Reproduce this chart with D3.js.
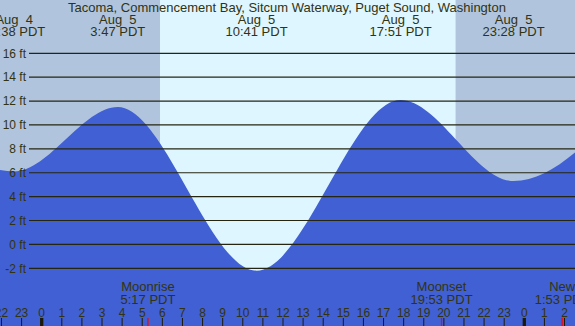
<!DOCTYPE html>
<html>
<head>
<meta charset="utf-8">
<script src="https://cdn.jsdelivr.net/npm/d3@7"></script>
<style>
  body { margin: 0; background: #fff; }
  svg { display: block; font-family: "Liberation Sans", Arial, sans-serif; }
</style>
</head>
<body>
<svg id="chart" width="575" height="326"></svg>
<script>
const title = "Tacoma, Commencement Bay, Sitcum Waterway, Puget Sound, Washington";

// tide extremes (local time, feet)
const tideTimes = ["2024-08-04 16:40", "2024-08-04 22:38", "2024-08-05 03:47", "2024-08-05 10:41",
                   "2024-08-05 17:51", "2024-08-05 23:28", "2024-08-06 05:05"];
const tideHeights = [12.0, 6.1, 11.5, -2.2, 12.1, 5.3, 11.9];

// sun (day shading)
const sunTimes = ["2024-08-05 05:53", "2024-08-05 20:35"];

// moon events
const moonNames = ["Moonrise", "Moonset", "New"];
const moonTimes = ["2024-08-05 05:17", "2024-08-05 19:53", "2024-08-06 01:53"];

const feetTicks = [-2, 0, 2, 4, 6, 8, 10, 12, 14, 16];

const W = 575, H = 326;
const parse = d3.timeParse("%Y-%m-%d %H:%M");
const fmtDay = d3.timeFormat("%b %e");
const fmtTime = d3.timeFormat("%-H:%M");

const x = d3.scaleTime()
  .domain([parse("2024-08-05 00:00"), parse("2024-08-06 00:00")])
  .range([41.7, 524.3]);

const y = d3.scaleLinear()
  .domain([-2, 16])
  .range([268.3, 53.3]);

const ink = "#33330f";
const svg = d3.select("#chart");

// night background, then day band
svg.append("rect")
  .attr("width", W).attr("height", H)
  .attr("fill", "#b0c4de");

svg.append("rect")
  .attr("x", x(parse(sunTimes[0])))
  .attr("y", 0)
  .attr("width", x(parse(sunTimes[1])) - x(parse(sunTimes[0])))
  .attr("height", H)
  .attr("fill", "#ddf6ff");

// water
const tides = tideTimes.map((t, i) => ({ date: parse(t), ft: tideHeights[i] }));

const area = d3.area()
  .x(d => x(d.date))
  .y0(H)
  .y1(d => y(d.ft))
  .curve(d3.curveMonotoneX);

svg.append("path")
  .datum(tides)
  .attr("d", area)
  .attr("fill", "#4060d3");

// grid lines + feet labels
svg.selectAll(".grid")
  .data(feetTicks)
  .enter()
  .append("line")
  .attr("class", "grid")
  .attr("x1", 29)
  .attr("x2", W)
  .attr("y1", d => y(d))
  .attr("y2", d => y(d))
  .attr("stroke", "#262610")
  .attr("stroke-width", 1.2);

svg.selectAll(".ylab")
  .data(feetTicks)
  .enter()
  .append("text")
  .attr("class", "ylab")
  .attr("x", 26)
  .attr("y", d => y(d) + 4.3)
  .attr("text-anchor", "end")
  .attr("font-size", 12)
  .attr("fill", ink)
  .text(d => d + " ft");

// title
svg.append("text")
  .attr("x", 287)
  .attr("y", 11.5)
  .attr("text-anchor", "middle")
  .attr("font-size", 13)
  .attr("fill", ink)
  .text(title);

// tide labels
const shown = tides.filter(d => x(d.date) > -40 && x(d.date) < W + 40);

const tl = svg.selectAll(".tide")
  .data(shown)
  .enter()
  .append("g")
  .attr("class", "tide")
  .attr("transform", d => `translate(${x(d.date)},0)`);

tl.append("text")
  .attr("y", 24.3)
  .attr("text-anchor", "middle")
  .attr("font-size", 13)
  .attr("fill", ink)
  .style("white-space", "pre")
  .text(d => fmtDay(d.date).replace(" ", "  ").replace("   ", "  "));

tl.append("text")
  .attr("y", 36)
  .attr("text-anchor", "middle")
  .attr("font-size", 13)
  .attr("fill", ink)
  .text(d => fmtTime(d.date) + " PDT");

// hour ticks
const hours = d3.timeHour.range(parse("2024-08-04 22:00"), parse("2024-08-06 03:00"));

svg.selectAll(".htick")
  .data(hours)
  .enter()
  .append("line")
  .attr("class", "htick")
  .attr("x1", d => x(d))
  .attr("x2", d => x(d))
  .attr("y1", 318)
  .attr("y2", H)
  .attr("stroke", "#1a1a0a")
  .attr("stroke-width", d => d.getHours() === 0 ? 3.3 : 1);

svg.selectAll(".hlab")
  .data(hours)
  .enter()
  .append("text")
  .attr("class", "hlab")
  .attr("x", d => x(d))
  .attr("y", 316.5)
  .attr("text-anchor", "middle")
  .attr("font-size", 12)
  .attr("fill", ink)
  .text(d => d.getHours());

// moon events
const moons = moonTimes.map((t, i) => ({ name: moonNames[i], date: parse(t) }));

svg.selectAll(".mtick")
  .data(moons)
  .enter()
  .append("line")
  .attr("class", "mtick")
  .attr("x1", d => x(d.date))
  .attr("x2", d => x(d.date))
  .attr("y1", 318)
  .attr("y2", H)
  .attr("stroke", "#ff0000")
  .attr("stroke-width", 1.2);

const ml = svg.selectAll(".moon")
  .data(moons)
  .enter()
  .append("g")
  .attr("class", "moon")
  .attr("transform", d => `translate(${x(d.date)},0)`);

ml.append("text")
  .attr("y", 291)
  .attr("text-anchor", "middle")
  .attr("font-size", 13)
  .attr("fill", ink)
  .text(d => d.name);

ml.append("text")
  .attr("y", 303.5)
  .attr("text-anchor", "middle")
  .attr("font-size", 13)
  .attr("fill", ink)
  .text(d => fmtTime(d.date) + " PDT");
</script>
</body>
</html>
